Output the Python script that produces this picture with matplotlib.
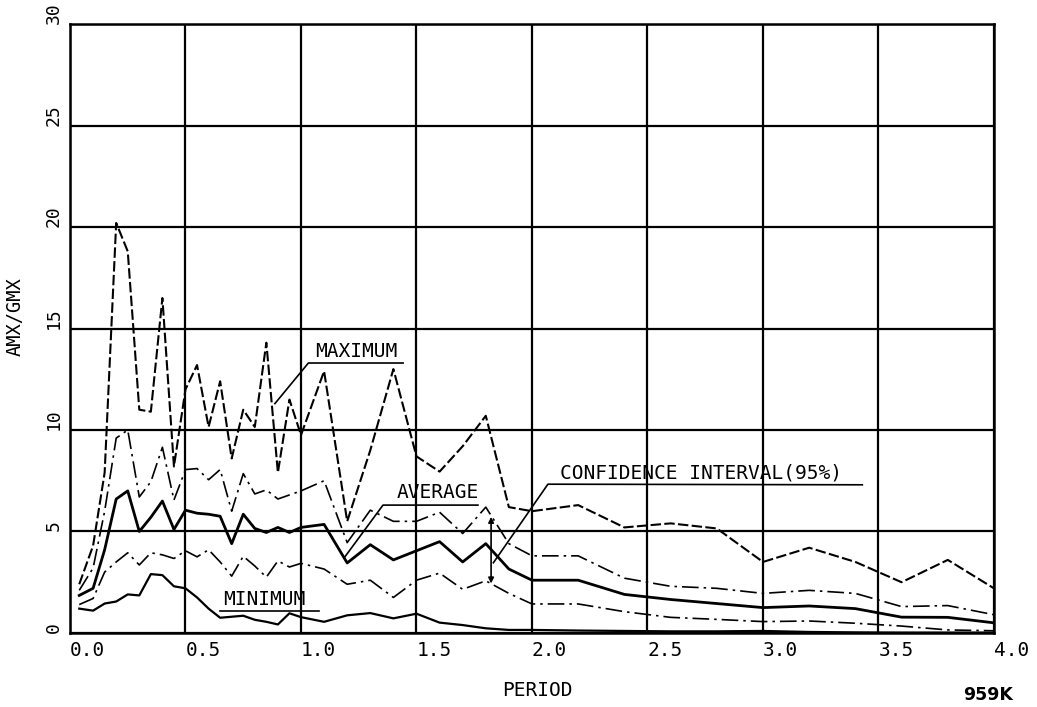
import numpy as np
import matplotlib
matplotlib.use("Agg")
import matplotlib.pyplot as plt

# periods (s)
period = [0.04, 0.10, 0.15, 0.20, 0.25, 0.30, 0.35, 0.40, 0.45, 0.50,
          0.55, 0.60, 0.65, 0.70, 0.75, 0.80, 0.85, 0.90, 0.95, 1.00,
          1.1, 1.2, 1.3, 1.4, 1.5, 1.6, 1.7, 1.8, 1.9, 2.0,
          2.2, 2.4, 2.6, 2.8, 3.0, 3.2, 3.4, 3.6, 3.8, 4.0]

maximum = [2.4, 4.3, 7.9, 20.2, 18.8, 11.0, 10.9, 16.5, 8.2, 12.0,
           13.2, 10.15, 12.4, 8.6, 11.0, 10.15, 14.3, 7.9, 11.5, 9.75,
           12.9, 5.5, 9.0, 13.0, 8.7, 7.95, 9.2, 10.7, 6.2, 6.0,
           6.3, 5.2, 5.4, 5.15, 3.5, 4.2, 3.5, 2.5, 3.6, 2.2]

upper_ci = [2.1, 3.2, 6.0, 9.6, 10.0, 6.7, 7.45, 9.15, 6.55, 8.05,
            8.1, 7.55, 8.05, 6.0, 7.85, 6.85, 7.05, 6.6, 6.8, 7.0,
            7.5, 4.45, 6.05, 5.5, 5.5, 5.95, 4.9, 6.2, 4.4, 3.8,
            3.8, 2.7, 2.3, 2.2, 1.95, 2.1, 1.95, 1.3, 1.35, 0.9]

average = [1.85, 2.2, 4.1, 6.6, 7.0, 5.0, 5.7, 6.5, 5.1, 6.05,
           5.9, 5.85, 5.75, 4.4, 5.85, 5.15, 4.95, 5.2, 4.95, 5.2,
           5.35, 3.45, 4.35, 3.6, 4.05, 4.5, 3.5, 4.4, 3.15, 2.6,
           2.6, 1.9, 1.65, 1.45, 1.25, 1.33, 1.2, 0.78, 0.77, 0.5]

lower_ci = [1.4, 1.7, 3.0, 3.5, 3.95, 3.35, 3.95, 3.85, 3.67, 4.05,
            3.75, 4.1, 3.5, 2.8, 3.78, 3.3, 2.75, 3.55, 3.25, 3.43,
            3.15, 2.4, 2.6, 1.75, 2.6, 2.95, 2.15, 2.57, 1.95, 1.43,
            1.43, 1.05, 0.77, 0.67, 0.56, 0.59, 0.48, 0.34, 0.15, 0.11]

minimum = [1.2, 1.1, 1.45, 1.55, 1.9, 1.85, 2.9, 2.85, 2.3, 2.2,
           1.75, 1.2, 0.75, 0.8, 0.85, 0.65, 0.55, 0.42, 0.97, 0.78,
           0.55, 0.87, 0.98, 0.72, 0.95, 0.51, 0.39, 0.23, 0.15, 0.15,
           0.12, 0.1, 0.08, 0.08, 0.1, 0.05, 0.03, 0.02, 0.02, 0.02]

xticks = [0.0, 0.5, 1.0, 1.5, 2.0, 2.5, 3.0, 3.5, 4.0]
xticklabels = ["0.0", "0.5", "1.0", "1.5", "2.0", "2.5", "3.0", "3.5", "4.0"]
yticks = [0, 5, 10, 15, 20, 25, 30]

mono = "DejaVu Sans Mono"

fig = plt.figure(figsize=(10.37, 7.07), dpi=100)
ax = fig.add_axes([0.0675, 0.1047, 0.891, 0.8613])

ax.plot(period, maximum, color="black", lw=1.5, dashes=(5, 1.6))
ax.plot(period, upper_ci, color="black", lw=1.2, dashes=(10, 3, 1.5, 3))
ax.plot(period, average, color="black", lw=2.0)
ax.plot(period, lower_ci, color="black", lw=1.2, dashes=(10, 3, 1.5, 3))
ax.plot(period, minimum, color="black", lw=1.6)

ax.set_xlim(0, 4)
ax.set_ylim(0, 30)
ax.set_xticks(xticks)
ax.set_xticklabels(xticklabels, fontfamily=mono, fontsize=14)
ax.set_yticks(yticks)
ax.set_yticklabels([str(v) for v in yticks], fontfamily=mono, fontsize=13,
                   rotation=90)
for lab in ax.get_xticklabels():
    lab.set_ha("left")
for lab in ax.get_yticklabels():
    lab.set_va("bottom")
ax.tick_params(length=0, pad=6)
ax.tick_params(axis="y", pad=5)
ax.grid(True, color="black", lw=1.6)
for s in ax.spines.values():
    s.set_linewidth(1.8)

# annotations
txt = dict(fontfamily=mono, fontsize=14, ha="left", va="baseline")
lk = dict(color="black", lw=1.2)

ax.text(1.061, 13.58, "MAXIMUM", **txt)
ax.plot([0.887, 1.032, 1.442], [11.3, 13.3, 13.3], **lk)

ax.text(0.662, 1.38, "MINIMUM", **txt)
ax.plot([0.649, 1.08], [1.1, 1.1], **lk)

ax.text(1.416, 6.64, "AVERAGE", **txt)
ax.plot([1.19, 1.355, 1.766], [3.75, 6.3, 6.3], **lk)

ax.text(2.121, 7.62, "CONFIDENCE INTERVAL(95%)", **txt)
ax.plot([1.833, 2.069, 3.43], [3.46, 7.33, 7.3], **lk)
ax.annotate("", xy=(1.823, 2.44), xytext=(1.823, 5.72),
            arrowprops=dict(arrowstyle="<|-|>", color="black", lw=1.2,
                            mutation_scale=8, shrinkA=0, shrinkB=0))

fig.text(15 / 1037, 1 - 317 / 707, "AMX/GMX", rotation=90, fontfamily=mono,
         fontsize=13.5, ha="center", va="center")
fig.text(537 / 1037, 1 - 690 / 707, "PERIOD", fontfamily=mono, fontsize=14,
         ha="center", va="center")
fig.text(988 / 1037, 1 - 695 / 707, "959K", fontfamily="DejaVu Sans",
         fontweight="bold", fontsize=12.5, ha="center", va="center")

fig.savefig("out.png", dpi=100)
